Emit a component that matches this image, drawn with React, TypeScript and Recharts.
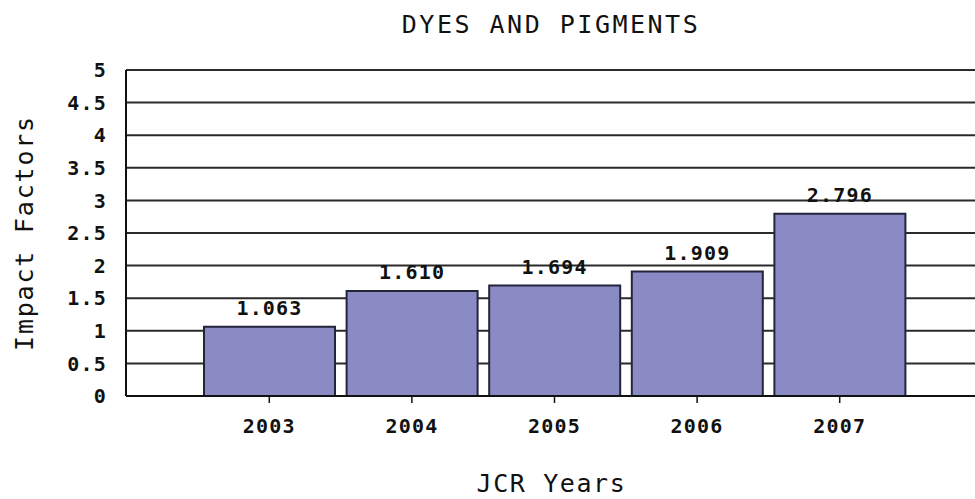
import React from 'react';
import { BarChart, Bar, XAxis, YAxis, CartesianGrid, LabelList, Label } from 'recharts';

const years = ['2003', '2004', '2005', '2006', '2007'];
const impactFactors = [1.063, 1.61, 1.694, 1.909, 2.796];
const valueLabels = ['1.063', '1.610', '1.694', '1.909', '2.796'];
const yTicks = [0, 0.5, 1, 1.5, 2, 2.5, 3, 3.5, 4, 4.5, 5];
const chartTitle = 'DYES AND PIGMENTS';
const xTitle = 'JCR Years';
const yTitle = 'Impact Factors';

const data = years.map((y, i) => ({ year: y, value: impactFactors[i], label: valueLabels[i] }));

const FONT = '"DejaVu Sans Mono", "Liberation Mono", monospace';
const tickStyle = { fontFamily: FONT, fontSize: 20, fontWeight: 'bold', fill: '#111', letterSpacing: 1.2 };
const titleStyle = { fontFamily: FONT, fontSize: 25, fill: '#111', letterSpacing: 2.5 };

const YTitle = (props: any) => {
  const vb = props.viewBox || {};
  const bx = (vb.x || 0) + 33;
  const cy = (vb.y || 0) + (vb.height || 0) / 2;
  return (
    <text x={bx} y={cy} transform={`rotate(-90 ${bx} ${cy})`} textAnchor="middle" style={{ ...titleStyle, letterSpacing: 1.8 }}>
      {yTitle}
    </text>
  );
};

const XTitle = (props: any) => {
  const vb = props.viewBox || {};
  const cx = (vb.x || 0) + (vb.width || 0) / 2 + 1;
  const by = (vb.y || 0) + 96;
  return (
    <text x={cx} y={by} textAnchor="middle" style={{ ...titleStyle, letterSpacing: 1.6 }}>
      {xTitle}
    </text>
  );
};

export default function App() {
  return (
    <div style={{ position: 'absolute', left: 0, top: 0, width: 975, height: 499, background: '#fff' }}>
      <BarChart
        width={975}
        height={499}
        data={data}
        margin={{ top: 70, right: 0, bottom: 0, left: 0 }}
      >
        <text x={551} y={33} textAnchor="middle" style={titleStyle}>{chartTitle}</text>
        <CartesianGrid vertical={false} stroke="#2a2a2a" strokeWidth={2} />
        <XAxis
          dataKey="year"
          height={103}
          padding={{ left: 72, right: 64 }}
          axisLine={{ stroke: '#111', strokeWidth: 2 }}
          tickLine={{ stroke: '#111', strokeWidth: 1.5 }}
          tickSize={7}
          tickMargin={16}
          tick={tickStyle}
          interval={0}
        >
          <Label content={<XTitle />} />
        </XAxis>
        <YAxis
          width={126}
          domain={[0, 5]}
          ticks={yTicks}
          interval={0}
          tickLine={false}
          tickSize={0}
          tickMargin={19}
          axisLine={{ stroke: '#111', strokeWidth: 2 }}
          tick={tickStyle}
        >
          <Label content={<YTitle />} />
        </YAxis>
        <Bar dataKey="value" fill="#8a8ac4" stroke="#23233a" strokeWidth={2} barSize={131} isAnimationActive={false}>
          <LabelList dataKey="label" position="top" offset={12} style={tickStyle} />
        </Bar>
      </BarChart>
    </div>
  );
}
